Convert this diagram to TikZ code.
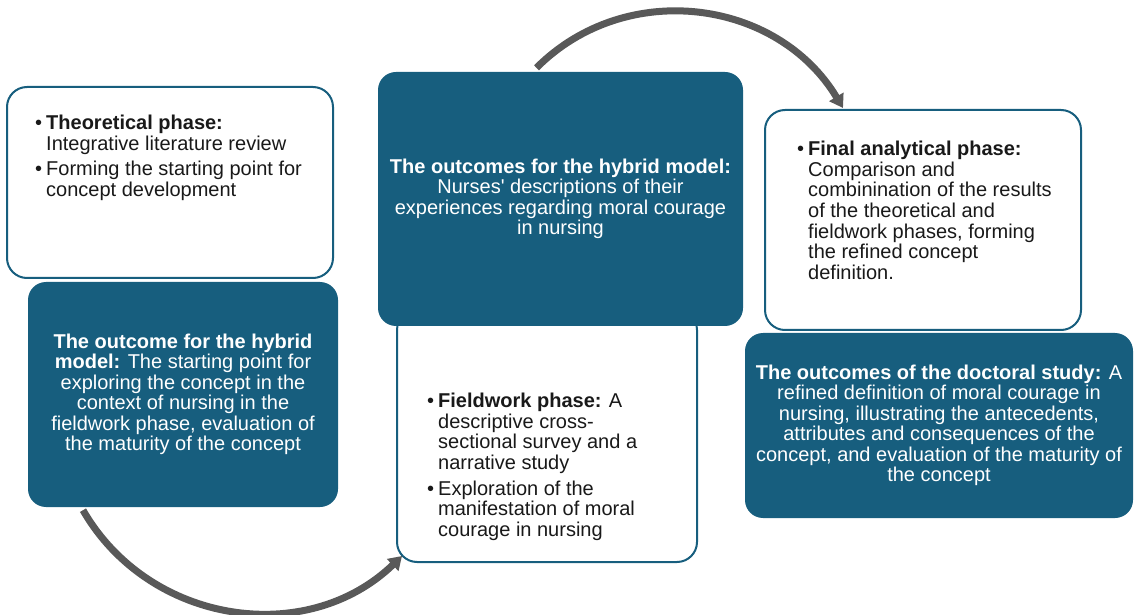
\documentclass[tikz,border=0pt]{standalone}
\usepackage{fontspec}
\setmainfont{Liberation Sans}
\usetikzlibrary{arrows.meta}

\definecolor{phaseblue}{RGB}{23,94,126}
\definecolor{arrowgray}{RGB}{89,89,89}

\begin{document}
\begin{tikzpicture}[x=1pt, y=1pt,
    whitebox/.style={draw=phaseblue, line width=2pt, fill=white, rounded corners=20pt, inner sep=0pt},
    tealbox/.style={fill=phaseblue, text=white, rounded corners=18pt, inner sep=0pt, align=center,
        font=\fontsize{20}{20.5}\selectfont},
    phasetext/.style={anchor=north west, inner sep=0pt, text=black!90, font=\fontsize{20}{20.5}\selectfont},
    cyclearrow/.style={draw=arrowgray, line width=7pt, -{Triangle[length=13pt,width=16pt]}, looseness=1.05}]
    \useasboundingbox (0,0) rectangle (1138,614);

    % Theoretical phase
    \node[whitebox, minimum width=326pt, minimum height=191pt] (theory) at (170,431.5) {};
    \node[phasetext] (theorytext) at (35,499) {\begin{tabular}{@{}l@{\hspace{4pt}}l@{}}
        \textbullet & \textbf{Theoretical phase:}\\
                    & Integrative literature review\\[5pt]
        \textbullet & Forming the starting point for\\
                    & concept development
    \end{tabular}};

    % Fieldwork phase
    \node[whitebox, minimum width=300pt, minimum height=252pt] (field) at (547,178) {};
    \node[phasetext] (fieldtext) at (427,221) {\begin{tabular}{@{}l@{\hspace{4pt}}l@{}}
        \textbullet & \textbf{Fieldwork phase:} A\\
                    & descriptive cross-\\
                    & sectional survey and a\\
                    & narrative study\\[5pt]
        \textbullet & Exploration of the\\
                    & manifestation of moral\\
                    & courage in nursing
    \end{tabular}};

    % Final analytical phase
    \node[whitebox, minimum width=316pt, minimum height=220pt] (final) at (923,394) {};
    \node[phasetext] (finaltext) at (797,473) {\begin{tabular}{@{}l@{\hspace{4pt}}l@{}}
        \textbullet & \textbf{Final analytical phase:}\\
                    & Comparison and\\
                    & combinination of the results\\
                    & of the theoretical and\\
                    & fieldwork phases, forming\\
                    & the refined concept\\
                    & definition.
    \end{tabular}};

    % Outcomes
    \node[tealbox, minimum width=310pt, minimum height=225pt] (outtheory) at (183,219.5) {
        \textbf{The outcome for the hybrid}\\
        \textbf{model:} The starting point for\\
        exploring the concept in the\\
        context of nursing in the\\
        fieldwork phase, evaluation of\\
        the maturity of the concept
    };
    \node[tealbox, minimum width=365pt, minimum height=254pt] (outfield) at (560.5,415) {
        \textbf{The outcomes for the hybrid model:}\\
        Nurses\textquotesingle{} descriptions of their\\
        experiences regarding moral courage\\
        in nursing
    };
    \node[tealbox, minimum width=388pt, minimum height=185pt] (outstudy) at (939,188.5) {
        \textbf{The outcomes of the doctoral study:} A\\
        refined definition of moral courage in\\
        nursing, illustrating the antecedents,\\
        attributes and consequences of the\\
        concept, and evaluation of the maturity of\\
        the concept
    };

    % Cycle arrows
    \draw[cyclearrow] ([xshift=-100pt,yshift=-3pt]outtheory.south) to[out=-60, in=-136] ([shift={(6pt,7pt)}]field.south west);
    \draw[cyclearrow] ([xshift=-24pt,yshift=4pt]outfield.north) to[out=45, in=121] ([xshift=-80pt,yshift=1pt]final.north);
\end{tikzpicture}
\end{document}
